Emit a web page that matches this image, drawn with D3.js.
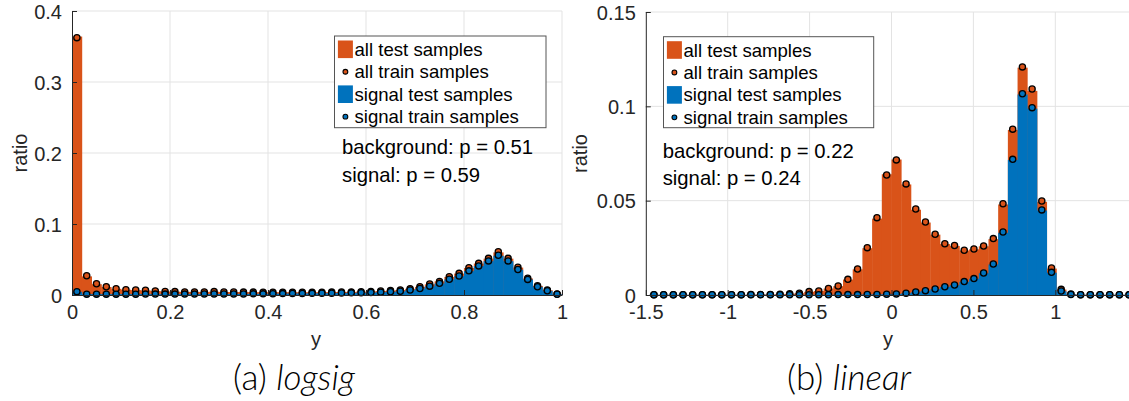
<!DOCTYPE html>
<html>
<head>
<meta charset="utf-8">
<script src="https://cdn.jsdelivr.net/npm/d3@7"></script>
<style>
  body { margin: 0; background: #ffffff; }
  svg { display: block; }
</style>
</head>
<body>
<svg id="fig" width="1129" height="401"></svg>
<script>
// ---------------------------------------------------------------
// Histogram data: 50 equal-width bins per panel
// ---------------------------------------------------------------

// (a) logsig output, bins of width 0.02 starting at 0
const logsigBinStart = 0;
const logsigBinWidth = 0.02;
const logsigAllTest = [
  0.3640, 0.0262, 0.0152, 0.0113, 0.0087, 0.0074, 0.0068, 0.0064, 0.0057, 0.0050,
  0.0047, 0.0044, 0.0043, 0.0044, 0.0046, 0.0042, 0.0041, 0.0041, 0.0040, 0.0040,
  0.0040, 0.0039, 0.0039, 0.0040, 0.0040, 0.0040, 0.0041, 0.0042, 0.0044, 0.0047,
  0.0050, 0.0055, 0.0061, 0.0071, 0.0087, 0.0114, 0.0150, 0.0192, 0.0255, 0.0302,
  0.0380, 0.0443, 0.0512, 0.0600, 0.0512, 0.0386, 0.0232, 0.0128, 0.0068, 0.0016
];
const logsigAllTrain = [
  0.3625, 0.0272, 0.0159, 0.0117, 0.0089, 0.0075, 0.0070, 0.0066, 0.0058, 0.0050,
  0.0048, 0.0044, 0.0044, 0.0044, 0.0048, 0.0042, 0.0042, 0.0041, 0.0041, 0.0040,
  0.0040, 0.0040, 0.0040, 0.0040, 0.0040, 0.0040, 0.0041, 0.0042, 0.0044, 0.0046,
  0.0049, 0.0056, 0.0062, 0.0072, 0.0089, 0.0117, 0.0155, 0.0190, 0.0258, 0.0305,
  0.0385, 0.0446, 0.0516, 0.0610, 0.0516, 0.0390, 0.0235, 0.0130, 0.0070, 0.0015
];
const logsigSignalTest = [
  0.0045, 0.0012, 0.0012, 0.0012, 0.0012, 0.0012, 0.0012, 0.0013, 0.0013, 0.0013,
  0.0013, 0.0013, 0.0013, 0.0014, 0.0014, 0.0014, 0.0015, 0.0015, 0.0016, 0.0016,
  0.0018, 0.0019, 0.0021, 0.0022, 0.0023, 0.0024, 0.0026, 0.0028, 0.0030, 0.0033,
  0.0034, 0.0039, 0.0044, 0.0051, 0.0068, 0.0090, 0.0122, 0.0162, 0.0220, 0.0265,
  0.0336, 0.0407, 0.0476, 0.0553, 0.0476, 0.0356, 0.0218, 0.0115, 0.0059, 0.0010
];
const logsigSignalTrain = [
  0.0047, 0.0012, 0.0012, 0.0012, 0.0012, 0.0012, 0.0012, 0.0013, 0.0013, 0.0013,
  0.0013, 0.0013, 0.0013, 0.0014, 0.0014, 0.0014, 0.0015, 0.0015, 0.0016, 0.0016,
  0.0018, 0.0020, 0.0021, 0.0022, 0.0023, 0.0024, 0.0026, 0.0028, 0.0030, 0.0033,
  0.0035, 0.0040, 0.0045, 0.0052, 0.0070, 0.0092, 0.0125, 0.0164, 0.0222, 0.0268,
  0.0340, 0.0410, 0.0480, 0.0560, 0.0480, 0.0360, 0.0220, 0.0117, 0.0060, 0.0010
];

// (b) linear output, bins of width 0.0592 starting at -1.48
const linearBinStart = -1.48;
const linearBinWidth = 0.0592;
const linearAllTest = [
  0.0001, 0.0001, 0.0001, 0.0001, 0.0001, 0.0001, 0.0001, 0.0001, 0.0001, 0.0001,
  0.0002, 0.0002, 0.0003, 0.0004, 0.0006, 0.0009, 0.0017, 0.0021, 0.0034, 0.0047,
  0.0082, 0.0136, 0.0248, 0.0405, 0.0640, 0.0718, 0.0586, 0.0452, 0.0384, 0.0320,
  0.0270, 0.0260, 0.0236, 0.0242, 0.0258, 0.0296, 0.0480, 0.0875, 0.1205, 0.1082,
  0.0494, 0.0140, 0.0029, 0.0005, 0.0001, 0.0001, 0.0001, 0.0001, 0.0001, 0.0001
];
const linearAllTrain = [
  0.0001, 0.0001, 0.0001, 0.0001, 0.0001, 0.0001, 0.0001, 0.0001, 0.0001, 0.0001,
  0.0002, 0.0002, 0.0003, 0.0004, 0.0006, 0.0009, 0.0018, 0.0021, 0.0035, 0.0048,
  0.0083, 0.0138, 0.0251, 0.0410, 0.0636, 0.0716, 0.0589, 0.0456, 0.0387, 0.0322,
  0.0272, 0.0262, 0.0237, 0.0244, 0.0260, 0.0299, 0.0484, 0.0879, 0.1209, 0.1092,
  0.0498, 0.0143, 0.0030, 0.0005, 0.0001, 0.0001, 0.0001, 0.0001, 0.0001, 0.0001
];
const linearSignalTest = [
  0.0001, 0.0001, 0.0001, 0.0001, 0.0001, 0.0001, 0.0001, 0.0001, 0.0001, 0.0001,
  0.0001, 0.0001, 0.0001, 0.0001, 0.0001, 0.0001, 0.0001, 0.0001, 0.0001, 0.0002,
  0.0002, 0.0002, 0.0003, 0.0003, 0.0004, 0.0005, 0.0009, 0.0015, 0.0022, 0.0031,
  0.0043, 0.0052, 0.0070, 0.0086, 0.0115, 0.0162, 0.0330, 0.0716, 0.1063, 0.0988,
  0.0448, 0.0118, 0.0020, 0.0003, 0.0001, 0.0001, 0.0001, 0.0001, 0.0001, 0.0001
];
const linearSignalTrain = [
  0.0001, 0.0001, 0.0001, 0.0001, 0.0001, 0.0001, 0.0001, 0.0001, 0.0001, 0.0001,
  0.0001, 0.0001, 0.0001, 0.0001, 0.0001, 0.0001, 0.0001, 0.0001, 0.0001, 0.0002,
  0.0002, 0.0002, 0.0003, 0.0003, 0.0004, 0.0005, 0.0009, 0.0016, 0.0023, 0.0032,
  0.0044, 0.0053, 0.0071, 0.0087, 0.0117, 0.0164, 0.0334, 0.0719, 0.1067, 0.0993,
  0.0451, 0.0120, 0.0021, 0.0003, 0.0001, 0.0001, 0.0001, 0.0001, 0.0001, 0.0001
];

// Axis ticks
const logsigXTicks = [0, 0.2, 0.4, 0.6, 0.8, 1];
const logsigYTicks = [0, 0.1, 0.2, 0.3, 0.4];
const linearXTicks = [-1.5, -1, -0.5, 0, 0.5, 1];
const linearYTicks = [0, 0.05, 0.1, 0.15];

// Legend entries and annotations
const legendLabels = ["all test samples", "all train samples", "signal test samples", "signal train samples"];
const logsigNotes = ["background: p = 0.51", "signal: p = 0.59"];
const linearNotes = ["background: p = 0.22", "signal: p = 0.24"];
const captions = [["(a) ", "logsig"], ["(b) ", "linear"]];

// ---------------------------------------------------------------
// Drawing
// ---------------------------------------------------------------
const ORANGE = "#D95319";
const BLUE = "#0072BD";
const AXIS = "#262626";
const GRID = "#e3e3e3";
const FONT = "'Liberation Sans', Arial, Helvetica, sans-serif";

const svg = d3.select("#fig");

function drawPanel(p) {
  const x = d3.scaleLinear().domain(p.xDomain).range(p.xRange);
  const y = d3.scaleLinear().domain(p.yDomain).range(p.yRange);
  const g = svg.append("g");

  // grid
  g.append("g").selectAll("line.hg")
    .data(p.yTicks.filter(t => t !== p.yDomain[0]))
    .join("line")
    .attr("x1", p.xRange[0]).attr("x2", p.xRange[1])
    .attr("y1", d => y(d)).attr("y2", d => y(d))
    .attr("stroke", GRID).attr("stroke-width", 1);
  g.append("g").selectAll("line.vg")
    .data(p.xTicks.filter(t => t !== p.xDomain[0]))
    .join("line")
    .attr("x1", d => x(d)).attr("x2", d => x(d))
    .attr("y1", p.yRange[1]).attr("y2", p.yRange[0])
    .attr("stroke", GRID).attr("stroke-width", 1);

  const n = p.allTest.length;
  const idx = d3.range(n);
  const left = i => p.binStart + i * p.binWidth;
  const center = i => p.binStart + (i + 0.5) * p.binWidth;

  function bars(values, color) {
    g.append("g").selectAll("rect")
      .data(idx)
      .join("rect")
      .attr("x", i => x(left(i)))
      .attr("width", i => x(left(i + 1)) - x(left(i)) + 0.4)
      .attr("y", i => y(values[i]))
      .attr("height", i => y(0) - y(values[i]))
      .attr("fill", color);
  }
  function dots(values, color) {
    g.append("g").selectAll("circle")
      .data(idx)
      .join("circle")
      .attr("cx", i => x(center(i)))
      .attr("cy", i => y(values[i]))
      .attr("r", 3.1)
      .attr("fill", color)
      .attr("stroke", "#000")
      .attr("stroke-width", 1.3);
  }
  bars(p.allTest, ORANGE);
  dots(p.allTrain, ORANGE);
  bars(p.signalTest, BLUE);
  dots(p.signalTrain, BLUE);

  // axes
  const fmt = d => String(d);
  const ax = g.append("g")
    .attr("transform", `translate(0,${p.yRange[0]})`)
    .call(d3.axisBottom(x).tickValues(p.xTicks).tickFormat(fmt)
      .tickSizeInner(-5).tickSizeOuter(0).tickPadding(10));
  const ay = g.append("g")
    .attr("transform", `translate(${p.xRange[0]},0)`)
    .call(d3.axisLeft(y).tickValues(p.yTicks).tickFormat(fmt)
      .tickSizeInner(-5).tickSizeOuter(0).tickPadding(10));
  [ax, ay].forEach(a => {
    a.select(".domain").attr("stroke", AXIS).attr("stroke-width", 1);
    a.selectAll(".tick line").attr("stroke", AXIS).attr("stroke-width", 1);
    a.selectAll(".tick text").attr("fill", AXIS)
      .style("font-family", FONT).style("font-size", "20px");
  });
  ay.selectAll(".tick text").attr("dy", "0.36em");

  // axis labels
  g.append("text")
    .attr("x", p.xLabelX)
    .attr("y", 346)
    .attr("text-anchor", "middle")
    .attr("fill", AXIS)
    .style("font-family", FONT).style("font-size", "20px")
    .text("y");
  g.append("text")
    .attr("transform", `translate(${p.yLabelX},${(p.yRange[0] + p.yRange[1]) / 2}) rotate(-90)`)
    .attr("text-anchor", "middle")
    .attr("dy", "0.35em")
    .attr("fill", AXIS)
    .style("font-family", FONT).style("font-size", "20px")
    .text("ratio");

  // legend
  const L = p.legend;
  const lg = g.append("g");
  lg.append("rect")
    .attr("x", L.x).attr("y", L.y).attr("width", L.w).attr("height", L.h)
    .attr("fill", "#fff").attr("stroke", "#555").attr("stroke-width", 1);
  const rowY = i => L.y + 13.3 + i * 22.45;
  const kinds = [
    { type: "patch", color: ORANGE },
    { type: "dot", color: ORANGE },
    { type: "patch", color: BLUE },
    { type: "dot", color: BLUE }
  ];
  kinds.forEach((k, i) => {
    const cy = rowY(i);
    if (k.type === "patch") {
      lg.append("rect")
        .attr("x", L.x + 3.4).attr("y", cy - 8.8)
        .attr("width", 15).attr("height", 17.6)
        .attr("fill", k.color);
    } else {
      lg.append("circle")
        .attr("cx", L.x + 10.9).attr("cy", cy)
        .attr("r", 2.4)
        .attr("fill", k.color).attr("stroke", "#000").attr("stroke-width", 1.1);
    }
    lg.append("text")
      .attr("x", L.x + 20).attr("y", cy)
      .attr("dy", "0.35em")
      .attr("fill", "#000")
      .style("font-family", FONT).style("font-size", "18.6px")
      .text(legendLabels[i]);
  });

  // p-value annotations
  p.notes.forEach((t, i) => {
    g.append("text")
      .attr("x", p.noteX).attr("y", p.noteY + i * 27.5)
      .attr("dy", "0.35em")
      .attr("fill", "#000")
      .style("font-family", FONT).style("font-size", "20.3px")
      .text(t);
  });

  // sub-caption
  const cap = g.append("text")
    .attr("x", p.captionX).attr("y", 390)
    .attr("text-anchor", "middle")
    .attr("fill", "#000")
    .style("font-family", "Lato, 'Open Sans', sans-serif")
    .style("font-size", "35px")
    .style("font-weight", 300);
  cap.append("tspan").text(p.caption[0]);
  cap.append("tspan").style("font-style", "italic").text(p.caption[1]);
}

drawPanel({
  xDomain: [0, 1], xRange: [72, 562],
  yDomain: [0, 0.4], yRange: [295, 11],
  xTicks: logsigXTicks, yTicks: logsigYTicks,
  binStart: logsigBinStart, binWidth: logsigBinWidth,
  allTest: logsigAllTest, allTrain: logsigAllTrain,
  signalTest: logsigSignalTest, signalTrain: logsigSignalTrain,
  legend: { x: 334.5, y: 36, w: 211.5, h: 91.7 },
  notes: logsigNotes, noteX: 342, noteY: 147,
  yLabelX: 20, xLabelX: 316,
  caption: captions[0], captionX: 294
});

drawPanel({
  xDomain: [-1.5, 1.48], xRange: [645.8, 645.8 + 2.98 * 163.8],
  yDomain: [0, 0.15], yRange: [295, 12],
  xTicks: linearXTicks, yTicks: linearYTicks,
  binStart: linearBinStart, binWidth: linearBinWidth,
  allTest: linearAllTest, allTrain: linearAllTrain,
  signalTest: linearSignalTest, signalTrain: linearSignalTrain,
  legend: { x: 663.5, y: 36.7, w: 210.2, h: 91 },
  notes: linearNotes, noteX: 662.7, noteY: 150.7,
  yLabelX: 580, xLabelX: 888,
  caption: captions[1], captionX: 849
});
</script>
</body>
</html>
